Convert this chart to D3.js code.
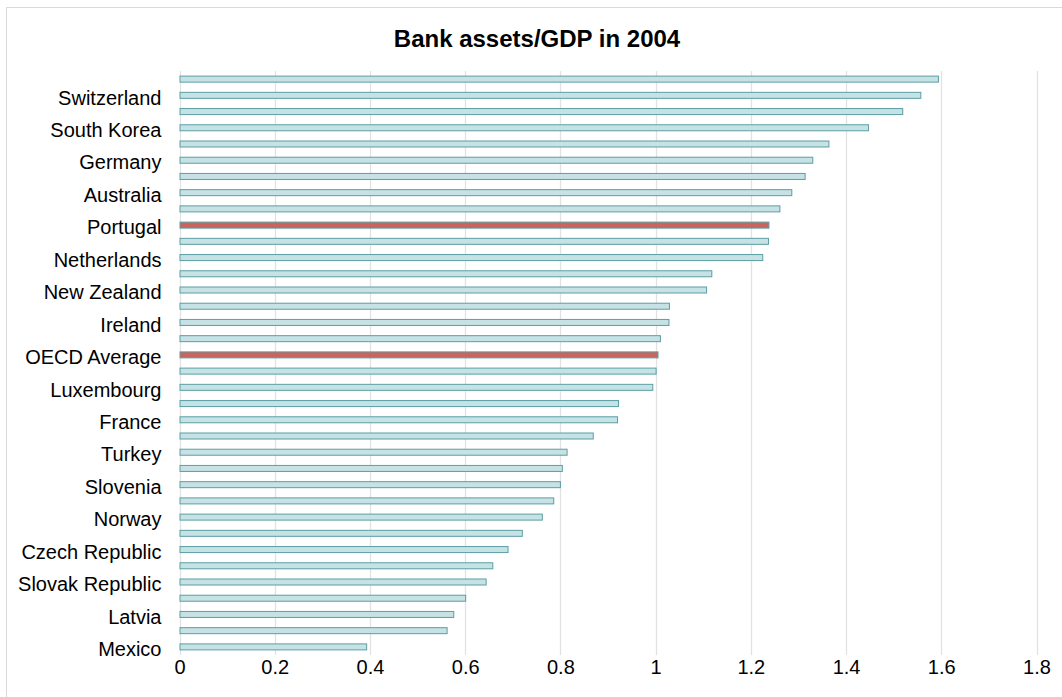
<!DOCTYPE html>
<html>
<head>
<meta charset="utf-8">
<script src="https://cdn.jsdelivr.net/npm/d3@7"></script>
<style>
  html, body { margin: 0; padding: 0; background: #fff; }
  svg { display: block; font-family: "Liberation Sans", Arial, sans-serif; }
</style>
</head>
<body>
<svg id="chart" width="1062" height="697"></svg>
<script>
// Categories from top to bottom (only every other one is labelled in the original)
const countries = [
  "United Kingdom", "Switzerland", "Denmark", "South Korea", "Spain", "Germany",
  "Austria", "Australia", "Belgium", "Portugal", "Japan", "Netherlands",
  "Sweden", "New Zealand", "Italy", "Ireland", "Canada", "OECD Average",
  "Greece", "Luxembourg", "Iceland", "France", "United States", "Turkey",
  "Finland", "Slovenia", "Estonia", "Norway", "Hungary", "Czech Republic",
  "Poland", "Slovak Republic", "Chile", "Latvia", "Lithuania", "Mexico"
];
const values = [
  1.593, 1.556, 1.518, 1.446, 1.363, 1.329,
  1.313, 1.285, 1.260, 1.237, 1.236, 1.224,
  1.117, 1.106, 1.028, 1.027, 1.009, 1.004,
  1.000, 0.993, 0.921, 0.919, 0.868, 0.813,
  0.803, 0.799, 0.785, 0.761, 0.719, 0.689,
  0.657, 0.643, 0.600, 0.575, 0.561, 0.392
];
const highlighted = ["Portugal", "OECD Average"];
const xTicks = [0, 0.2, 0.4, 0.6, 0.8, 1, 1.2, 1.4, 1.6, 1.8];
const title = "Bank assets/GDP in 2004";

const data = countries.map((c, i) => ({ name: c, value: values[i] }));

const svg = d3.select("#chart");
const W = 1062, H = 697;

// outer chart border
svg.append("rect")
  .attr("x", 6.5).attr("y", 7.5)
  .attr("width", W + 10).attr("height", H + 10)
  .attr("fill", "none").attr("stroke", "#d9d9d9").attr("stroke-width", 1);

const plot = { left: 179.5, right: 1036.5, top: 71, bottom: 655 };

const x = d3.scaleLinear().domain([0, 1.8]).range([plot.left, plot.right]);
const y = d3.scaleBand().domain(countries)
  .range([plot.top, plot.bottom])
  .paddingInner(0.63).paddingOuter(0.315);

// gridlines
svg.append("g")
  .selectAll("line")
  .data(xTicks)
  .join("line")
  .attr("x1", d => Math.round(x(d)) + 0.5)
  .attr("x2", d => Math.round(x(d)) + 0.5)
  .attr("y1", plot.top).attr("y2", plot.bottom)
  .attr("stroke", "#e2e2e2").attr("stroke-width", 1.3);

// bars
svg.append("g")
  .selectAll("rect")
  .data(data)
  .join("rect")
  .attr("x", x(0) + 0.5)
  .attr("y", d => y(d.name))
  .attr("width", d => x(d.value) - x(0))
  .attr("height", y.bandwidth())
  .attr("fill", d => highlighted.includes(d.name) ? "#c9645e" : "#c6e2e4")
  .attr("stroke", "#5b9fa4")
  .attr("stroke-width", 1);

// y axis labels (every other category)
const yAxis = d3.axisLeft(y)
  .tickValues(countries.filter((c, i) => i % 2 === 1))
  .tickSize(0).tickPadding(18);
const gy = svg.append("g")
  .attr("transform", `translate(${plot.left},0)`)
  .call(yAxis);
gy.select(".domain").remove();
gy.selectAll("text")
  .attr("font-family", "'Liberation Sans', Arial, sans-serif")
  .attr("font-size", 20).attr("fill", "#000")
  .attr("dy", "0.46em");

// x axis labels
const xAxis = d3.axisBottom(x).tickValues(xTicks)
  .tickFormat(d3.format("~g")).tickSize(0).tickPadding(0);
const gx = svg.append("g")
  .attr("transform", `translate(0,${plot.bottom})`)
  .call(xAxis);
gx.select(".domain").remove();
gx.selectAll("text")
  .attr("font-family", "'Liberation Sans', Arial, sans-serif")
  .attr("font-size", 20).attr("fill", "#000")
  .attr("y", 5);

// title
svg.append("text")
  .attr("x", 537).attr("y", 47)
  .attr("text-anchor", "middle")
  .attr("font-family", "'Liberation Sans', Arial, sans-serif")
  .attr("font-weight", "bold").attr("font-size", 24)
  .text(title);
</script>
</body>
</html>
